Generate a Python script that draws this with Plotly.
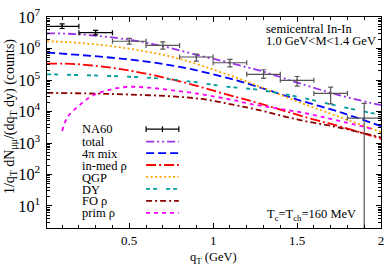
import plotly.graph_objects as go

# ---------------- data ----------------
na60_qt = [0.1, 0.3, 0.5, 0.7, 0.9, 1.1, 1.3, 1.5, 1.7, 1.9]
na60_val = [5.07e6, 3.19e6, 1.70e6, 1.25e6, 5.38e5, 3.53e5, 1.52e5, 9.8e4, 3.74e4, 6.2e3]
na60_err_hi = [1.0e6, 5.5e5, 4.0e5, 3.7e5, 1.25e5, 1.0e5, 6.0e4, 3.1e4, 2.2e4, 1.2e4]
na60_err_lo = [7.5e5, 4.8e5, 3.2e5, 2.9e5, 1.4e5, 9.2e4, 4.0e4, 3.4e4, 2.0e4, 6.2e3]
na60_halfbin = [0.1, 0.1, 0.1, 0.1, 0.1, 0.1, 0.1, 0.1, 0.1, 0.1]

total_qt = [0.01, 0.2, 0.5, 0.7, 0.9, 1.1, 1.3, 1.5, 1.75, 2.0]
total_val = [3.04e6, 2.83e6, 1.90e6, 1.18e6, 6.3e5, 3.5e5, 1.84e5, 8.3e4, 3.3e4, 1.58e4]

mix_qt = [0.01, 0.5, 0.8, 1.09, 1.27, 1.5, 1.77, 2.0]
mix_val = [7.46e5, 4.48e5, 2.61e5, 1.15e5, 6.0e4, 2.4e4, 9.0e3, 3.4e3]

inmed_qt = [0.01, 0.2, 0.5, 0.8, 1.09, 1.27, 1.56, 1.77, 2.0]
inmed_val = [3.29e5, 3.16e5, 2.0e5, 9.1e4, 3.35e4, 1.85e4, 6.4e3, 3.2e3, 1.36e3]

qgp_qt = [0.01, 0.2, 0.5, 0.8, 1.09, 1.27, 1.5, 1.75, 2.0]
qgp_val = [1.70e6, 1.51e6, 9.9e5, 4.67e5, 1.46e5, 6.4e4, 2.1e4, 6.8e3, 2.22e3]

dy_qt = [0.01, 0.5, 0.8, 1.09, 1.27, 1.5, 1.75, 2.0]
dy_val = [1.52e5, 1.27e5, 9.8e4, 6.1e4, 4.85e4, 2.97e4, 1.47e4, 7.8e3]

fo_qt = [0.01, 0.3, 0.5, 0.72, 0.93, 1.13, 1.26, 1.5, 1.75, 2.0]
fo_val = [3.9e4, 3.7e4, 3.45e4, 3.1e4, 2.5e4, 1.6e4, 1.15e4, 5.6e3, 3.1e3, 1.5e3]

prim_qt = [0.1, 0.134, 0.21, 0.28, 0.38, 0.48, 0.6, 0.91, 1.13, 1.22, 1.55, 1.74, 1.95]
prim_val = [2.4e3, 6.8e3, 1.69e4, 3.18e4, 4.85e4, 6.0e4, 5.8e4, 3.66e4, 2.24e4, 1.75e4, 8.8e3, 5.2e3, 2.8e3]

legend_names = ["NA60", "total", "4\u03c0 mix", "in-med \u03c1", "QGP", "DY", "FO \u03c1", "prim \u03c1"]

# ---------------- styles ----------------
FONT = "Liberation Serif, Times New Roman, serif"
styles = [
    dict(color="#9b30e8", dash="8px,3px,2px,3px,2px,3px"),  # total
    dict(color="#0000ff", dash="8px,4px"),                  # 4pi mix
    dict(color="#ff0000", dash="10px,3px,2px,3px"),         # in-med rho
    dict(color="#ffa500", dash="2px,2.5px"),                # QGP
    dict(color="#009b9b", dash="4px,3px,4px,9px"),          # DY
    dict(color="#8b0000", dash="6px,3px,2px,3px"),          # FO rho
    dict(color="#ff00ff", dash="4px,4px"),                  # prim rho
]
LW = 1.8
curves = [(total_qt, total_val), (mix_qt, mix_val), (inmed_qt, inmed_val),
          (qgp_qt, qgp_val), (dy_qt, dy_val), (fo_qt, fo_val), (prim_qt, prim_val)]

W, H = 390, 267
ML, MR, MT, MB = 47, 6, 8, 39
PW, PH = W - ML - MR, H - MT - MB


def px(x):
    return (x - ML) / PW


def py(y):
    return (H - MB - y) / PH


fig = go.Figure()

# theory curves
for (qt, val), st, name in zip(curves, styles, legend_names[1:]):
    fig.add_trace(go.Scatter(x=qt, y=val, mode="lines", name=name,
                             line=dict(color=st["color"], dash=st["dash"], width=LW, shape="spline"),
                             showlegend=False))

# NA60 data (first two black, others grey)
for sl, col in [(slice(0, 2), "#000000"), (slice(2, None), "#555555")]:
    fig.add_trace(go.Scatter(
        x=na60_qt[sl], y=na60_val[sl], mode="markers", name="NA60",
        marker=dict(size=2, color=col),
        error_x=dict(type="data", array=na60_halfbin[sl], color=col, thickness=1.2, width=2.5),
        error_y=dict(type="data", array=na60_err_hi[sl], arrayminus=na60_err_lo[sl],
                     color=col, thickness=1.2, width=2.5),
        showlegend=False))

# ---------------- manual legend (text left, sample right) ----------------
ann = []
shapes = []
leg_text_y = [125, 138, 150.5, 163, 175.5, 188, 200, 212]
leg_line_y = [125, 138, 150, 162.3, 174.7, 187.3, 199.7, 212.3]
x0s, x1s = 147, 180
for i, name in enumerate(legend_names):
    ann.append(dict(x=px(80), y=py(leg_text_y[i]), xref="paper", yref="paper", text=name,
                    showarrow=False, xanchor="left", yanchor="middle",
                    font=dict(family=FONT, size=12.5, color="black")))
    if i == 0:
        yy = py(leg_line_y[0])
        shapes.append(dict(type="line", xref="paper", yref="paper", x0=px(x0s), x1=px(x1s),
                           y0=yy, y1=yy, line=dict(color="black", width=1.2)))
        for xv in (x0s, x1s, (x0s + x1s) / 2):
            hh = 3 / PH
            shapes.append(dict(type="line", xref="paper", yref="paper", x0=px(xv), x1=px(xv),
                               y0=yy - hh, y1=yy + hh, line=dict(color="black", width=1.2)))
    else:
        st = styles[i - 1]
        yy = py(leg_line_y[i])
        shapes.append(dict(type="line", xref="paper", yref="paper", x0=px(x0s), x1=px(x1s),
                           y0=yy, y1=yy, line=dict(color=st["color"], dash=st["dash"], width=LW)))

# other texts
ann.append(dict(x=px(266), y=py(20), xref="paper", yref="paper", text="semicentral In-In",
                showarrow=False, xanchor="left", yanchor="middle",
                font=dict(family=FONT, size=12.5, color="black")))
ann.append(dict(x=px(266), y=py(33), xref="paper", yref="paper", text="1.0 GeV&lt;M&lt;1.4 GeV",
                showarrow=False, xanchor="left", yanchor="middle",
                font=dict(family=FONT, size=12.5, color="black")))
ann.append(dict(x=px(267), y=py(214), xref="paper", yref="paper",
                text="T<sub>c</sub>=T<sub>ch</sub>=160 MeV",
                showarrow=False, xanchor="left", yanchor="middle",
                font=dict(family=FONT, size=12.5, color="black")))
# axis titles
ann.append(dict(x=px(215), y=py(259), xref="paper", yref="paper",
                text="q<sub>T</sub> (GeV)", showarrow=False, xanchor="center", yanchor="middle",
                font=dict(family=FONT, size=12.5, color="black")))
ann.append(dict(x=px(10), y=py(112), xref="paper", yref="paper", textangle=-90,
                text="1/q<sub>T</sub> dN<sub>\u03bc\u03bc</sub>/(dq<sub>T</sub> dy) (counts)",
                showarrow=False, xanchor="center", yanchor="middle",
                font=dict(family=FONT, size=14, color="black")))

axis_common = dict(showline=True, linecolor="black", linewidth=1.2, mirror="ticks",
                   ticks="inside", ticklen=5, tickwidth=1, tickcolor="black",
                   showgrid=False, zeroline=False, ticklabeloverflow="allow",
                   tickfont=dict(family=FONT, size=13, color="black"))

fig.update_layout(
    width=W, height=H,
    margin=dict(l=ML, r=MR, t=MT, b=MB),
    paper_bgcolor="white", plot_bgcolor="white",
    font=dict(family=FONT, color="black"),
    xaxis=dict(range=[0.01, 2.0], tickmode="linear", tick0=0.5, dtick=0.5,
               minor=dict(dtick=0.1, ticks="inside", ticklen=3, tickcolor="black", showgrid=False),
               **axis_common),
    yaxis=dict(type="log", range=[0.30103, 7.0005], dtick=1, exponentformat="power",
               labelalias={"10": "10<sup>1</sup>"}, ticklabelstandoff=3,
               minor=dict(dtick="D1", ticks="inside", ticklen=3, tickcolor="black", showgrid=False),
               **axis_common),
    annotations=ann,
    shapes=shapes,
    showlegend=False,
)

fig.write_html("out.html", config={"displayModeBar": False},
               post_script="document.body.style.margin='0';document.body.style.padding='0';")
